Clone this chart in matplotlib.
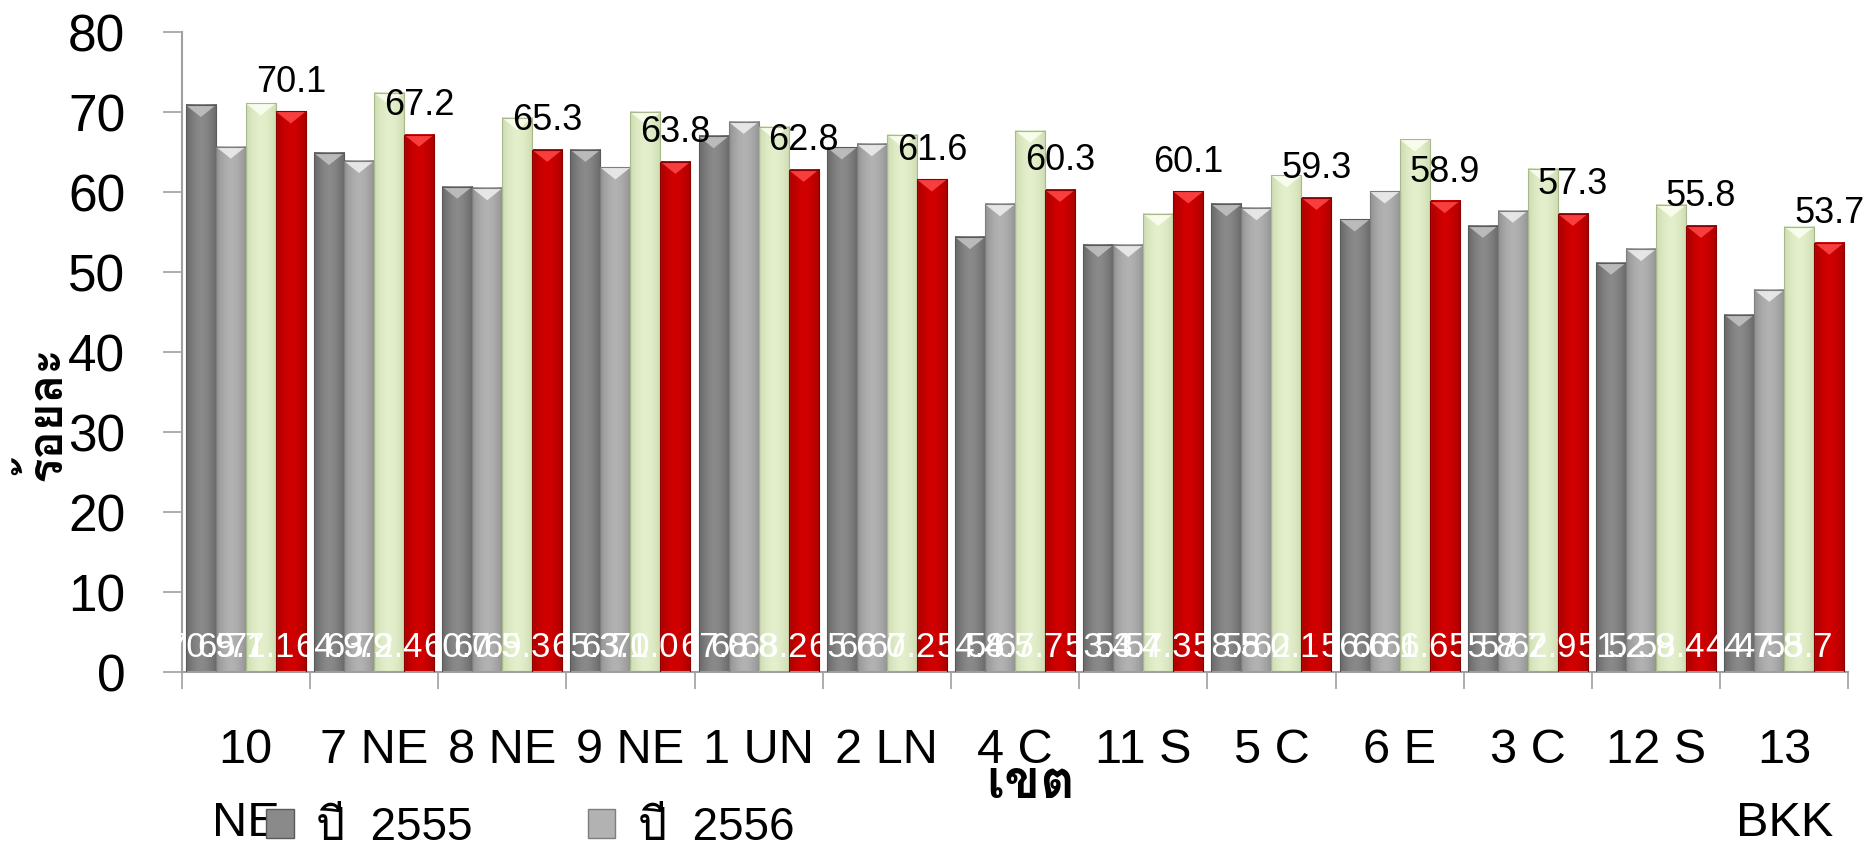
import matplotlib
matplotlib.use("Agg")
import matplotlib.pyplot as plt
import numpy as np
from matplotlib import font_manager
from matplotlib.ft2font import FT2Font
from matplotlib.patches import Patch, Polygon

categories = ["10\nNE", "7 NE", "8 NE", "9 NE", "1 UN", "2 LN", "4 C",
              "11 S", "5 C", "6 E", "3 C", "12 S", "13\nBKK"]
years = ["2555", "2556", "2557", "2558"]
y2555 = [70.9, 64.9, 60.7, 65.3, 67.0, 65.6, 54.4, 53.4, 58.5, 56.6, 55.8, 51.2, 44.7]
y2556 = [65.7, 63.9, 60.5, 63.1, 68.8, 66.0, 58.5, 53.4, 58.0, 60.1, 57.7, 52.9, 47.8]
y2557 = [71.1, 72.4, 69.3, 70.0, 68.2, 67.2, 67.7, 57.3, 62.1, 66.6, 62.9, 58.4, 55.7]
y2558 = [70.1, 67.2, 65.3, 63.8, 62.8, 61.6, 60.3, 60.1, 59.3, 58.9, 57.3, 55.8, 53.7]
series = [y2555, y2556, y2557, y2558]

# (edge shade, centre shade, outline, top bevel)
STYLES = [
    ("#686868", "#8a8a8a", "#5a5a5a", "#c4c4c4"),
    ("#939393", "#b2b2b2", "#7e7e7e", "#f0f0f0"),
    ("#cddcb2", "#e4f0cc", "#a9b98c", "#fbfff2"),
    ("#a80000", "#d20000", "#8a0000", "#ff4a4a"),
]


def find_family(codepoint, fallback):
    for f in font_manager.fontManager.ttflist:
        try:
            if codepoint in FT2Font(f.fname).get_charmap():
                return f.name
        except Exception:
            continue
    return fallback


THAI = find_family(0x0E23, "DejaVu Sans")
names = {f.name for f in font_manager.fontManager.ttflist}
NARROW = "Liberation Sans Narrow" if "Liberation Sans Narrow" in names else "Liberation Sans"
plt.rcParams["font.family"] = ["Liberation Sans", THAI, "DejaVu Sans"]

fig = plt.figure(figsize=(18.75, 8.49), dpi=100)
ax = fig.add_axes([0.0969, 0.2081, 0.8889, 0.7539])

n = len(categories)
x = np.arange(n)
bw = 0.234
offsets = (np.arange(4) - 1.5) * bw
ax.set_xlim(-0.5, n - 0.5)
ax.set_ylim(0, 80)

grad = np.linspace(-1, 1, 64)
grad = 1 - np.abs(grad) ** 1.6
bevel = 1.5

for si, vals in enumerate(series):
    edge, centre, outline, top = STYLES[si]
    cmap = matplotlib.colors.LinearSegmentedColormap.from_list("b%d" % si, [edge, centre])
    for ci, v in enumerate(vals):
        x0 = x[ci] + offsets[si] - bw / 2
        x1 = x0 + bw
        ax.imshow(grad[None, :], cmap=cmap, extent=[x0, x1, 0, v], aspect="auto",
                  vmin=0, vmax=1, zorder=2, interpolation="bicubic")
        ax.add_patch(Polygon([[x0, v], [x1, v], [(x0 + x1) / 2, v - bevel]],
                             closed=True, facecolor=top, edgecolor="none",
                             alpha=0.85, zorder=3))
        ax.add_patch(plt.Rectangle((x0, 0), bw, v, fill=False, edgecolor=outline,
                                   linewidth=0.8, zorder=4))

# values of the first three years sit inside the bar bases
for si in range(3):
    for ci, v in enumerate(series[si]):
        ax.text(x[ci] + offsets[si], 1.9, f"{v:.1f}", ha="center", va="baseline",
                color="white", fontsize=25, zorder=6)

# latest year labelled above its bars
for ci, v in enumerate(y2558):
    ax.annotate(f"{v:.1f}", (x[ci] + offsets[3], v), xytext=(0, 14),
                textcoords="offset points", ha="center", va="baseline",
                fontsize=26, color="black", zorder=6)

for s in ("top", "right"):
    ax.spines[s].set_visible(False)
for s in ("left", "bottom"):
    ax.spines[s].set_color("#a0a0a0")
    ax.spines[s].set_linewidth(1.5)

ax.set_yticks(np.arange(0, 81, 10))
ax.tick_params(axis="y", length=13.5, width=1.2, color="#a0a0a0",
               labelsize=37, pad=27)
ax.set_xticks(np.arange(-0.5, n, 1.0))
ax.set_xticklabels([])
ax.tick_params(axis="x", which="major", length=12, width=1.2, color="#a0a0a0")
ax.set_xticks(x, minor=True)
ax.set_xticklabels(categories, minor=True, fontsize=35, family=NARROW,
                   linespacing=1.8)
ax.tick_params(axis="x", which="minor", length=0, pad=40)

fig.text(44 / 1875, 1 - 413 / 849, "ร้อยละ", rotation=90, ha="center",
         va="center", fontsize=34, fontweight="bold", family=[THAI, "DejaVu Sans"])
fig.text(1031 / 1875, 1 - 785 / 849, "เขต", ha="center", va="center",
         fontsize=38, fontweight="bold", family=[THAI, "DejaVu Sans"])

handles = [Patch(facecolor=STYLES[i][1], edgecolor=STYLES[i][2]) for i in range(2)]
labels = ["ปี  " + y for y in years[:2]]
fig.legend(handles, labels, ncol=2, loc="upper left", frameon=False,
           bbox_to_anchor=(266 / 1875, 0.051),
           handlelength=0.6, handleheight=0.6, handletextpad=0.5,
           columnspacing=2.5, borderpad=0, borderaxespad=0,
           prop={"family": ["Liberation Sans", THAI], "size": 33})

fig.savefig("out.png", dpi=100)
